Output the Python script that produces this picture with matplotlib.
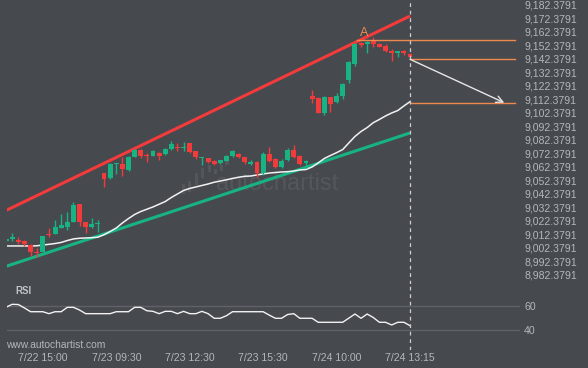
import numpy as np
import matplotlib
matplotlib.use('Agg')
import matplotlib.pyplot as plt

# 15-min candles
opens = [9007.6, 9009.3, 9008.5, 9007.6, 9004.6, 8999.4, 8999.2, 9012.5, 9013.0, 9017.4,
         9018.2, 9021.9, 9035.0, 9021.4, 9018.2, 9019.8, 9057.7, 9054.0, 9064.4, 9064.8,
         9060.2, 9070.0, 9075.2, 9071.4, 9070.8, 9073.0, 9071.8, 9075.7, 9077.3, 9076.6,
         9079.9, 9074.0, 9069.1, 9068.8, 9066.8, 9065.1, 9066.8, 9070.5, 9072.0, 9069.6,
         9064.6, 9066.3, 9057.7, 9072.0, 9068.3, 9062.6, 9067.6, 9075.0, 9070.8, 9065.1,
         9115.0, 9113.7, 9102.2, 9114.0, 9110.8, 9115.0, 9126.8, 9138.7, 9153.9, 9153.5,
         9155.7, 9153.5, 9152.0, 9148.3, 9147.0, 9148.3, 9146.1]
highs = [9008.7, 9013.7, 9010.3, 9008.1, 9005.1, 9002.6, 9011.6, 9017.0, 9023.1, 9027.8,
         9029.3, 9036.7, 9035.0, 9021.9, 9024.8, 9023.1, 9058.3, 9065.1, 9065.3, 9069.8,
         9070.2, 9075.7, 9075.7, 9072.5, 9074.6, 9073.3, 9076.1, 9081.6, 9079.9, 9080.7,
         9079.9, 9074.2, 9070.0, 9069.3, 9067.6, 9067.6, 9070.9, 9075.0, 9072.5, 9069.8,
         9067.4, 9066.5, 9073.7, 9077.4, 9069.3, 9068.3, 9076.2, 9078.7, 9071.3, 9067.6,
         9119.4, 9114.5, 9115.0, 9114.5, 9117.0, 9124.8, 9140.9, 9154.0, 9155.2, 9155.9,
         9158.5, 9154.5, 9153.5, 9149.6, 9148.3, 9149.0, 9146.6]
lows = [9007.6, 9007.8, 9005.1, 9004.1, 8996.7, 8995.9, 8999.1, 9010.8, 9012.5, 9017.0,
        9015.9, 9021.4, 9018.9, 9013.3, 9017.4, 9014.0, 9047.8, 9053.7, 9057.0, 9055.7,
        9059.6, 9069.6, 9069.3, 9066.3, 9070.5, 9067.2, 9071.3, 9075.0, 9074.5, 9074.2,
        9072.5, 9068.1, 9063.9, 9065.4, 9063.9, 9064.6, 9066.5, 9069.8, 9068.8, 9064.4,
        9063.9, 9055.2, 9056.5, 9066.3, 9061.9, 9061.9, 9067.1, 9069.3, 9063.9, 9061.9,
        9110.0, 9102.2, 9100.9, 9103.3, 9110.0, 9112.5, 9124.4, 9137.4, 9151.0, 9147.0,
        9151.0, 9151.0, 9147.8, 9141.1, 9144.1, 9145.3, 9142.9]
closes = [9008.7, 9010.2, 9007.1, 9005.3, 8999.6, 8998.7, 9011.3, 9011.8, 9017.9, 9019.4,
          9021.9, 9034.2, 9021.9, 9018.2, 9020.2, 9020.5, 9053.5, 9064.4, 9065.1, 9060.7,
          9070.0, 9075.0, 9070.8, 9070.7, 9074.2, 9070.8, 9075.7, 9079.2, 9076.6, 9077.3,
          9073.7, 9070.0, 9069.8, 9065.9, 9064.6, 9067.2, 9070.5, 9074.2, 9069.6, 9066.3,
          9066.3, 9057.7, 9072.0, 9066.8, 9062.6, 9066.8, 9075.0, 9070.0, 9064.6, 9066.8,
          9112.8, 9102.6, 9114.0, 9109.1, 9115.0, 9123.9, 9140.4, 9153.5, 9153.1, 9155.2,
          9153.5, 9151.5, 9148.5, 9146.6, 9148.3, 9146.6, 9143.6]

moving_avg = [9003.9, 9003.9, 9003.9, 9003.9, 9003.9, 9004.0, 9004.6, 9005.1, 9005.7, 9006.5,
              9007.9, 9009.1, 9009.6, 9009.8, 9010.0, 9010.4, 9012.2, 9014.6, 9017.2, 9020.9,
              9024.2, 9027.2, 9029.4, 9031.1, 9032.8, 9034.8, 9036.8, 9039.8, 9042.4, 9045.0,
              9046.5, 9047.6, 9048.7, 9049.8, 9051.1, 9052.0, 9052.9, 9053.9, 9054.8, 9055.5,
              9055.7, 9056.5, 9057.2, 9057.9, 9058.3, 9058.7, 9058.9, 9059.4, 9060.2, 9060.5,
              9062.4, 9065.4, 9068.7, 9070.9, 9073.0, 9075.3, 9080.2, 9085.0, 9088.7, 9091.6,
              9095.2, 9097.6, 9100.2, 9102.4, 9104.2, 9107.6, 9110.8]

rsi = [59.0, 61.4, 61.2, 58.4, 55.3, 55.3, 55.3, 53.7, 55.3, 55.3,
       58.9, 58.9, 56.7, 53.7, 53.7, 53.7, 53.7, 53.7, 55.3, 55.3,
       55.3, 58.9, 58.9, 56.1, 55.6, 53.7, 55.6, 55.6, 53.7, 55.6,
       53.7, 53.7, 55.6, 53.7, 49.9, 49.9, 52.0, 55.3, 55.3, 55.3,
       55.3, 55.3, 55.3, 52.5, 49.9, 49.9, 53.0, 53.7, 49.9, 49.9,
       49.9, 46.6, 46.6, 46.6, 46.6, 46.6, 50.0, 53.4, 49.9, 53.4,
       50.5, 46.6, 46.6, 44.4, 46.6, 46.6, 43.8]

# channel (start/end at first and last candle)
resistance = [9030.2, 9174.2]
support = [8988.8, 9087.6]

# pattern levels
level_a = 9156.45
level_last = 9142.16
level_target = 9110.0
target_idx = 81.4

date_idx = [6, 18, 30, 42, 54, 66]
date_labels = ['7/22 15:00', '7/23 09:30', '7/23 12:30', '7/23 15:30', '7/24 10:00', '7/24 13:15']

# faint logo bars next to the watermark (x index, bottom, top)
logo_x = [29.0, 30.0, 31.1, 32.1, 33.2, 34.2, 35.2, 36.1]
logo_lo = [9042.5, 9044.0, 9049.0, 9054.0, 9059.0, 9057.0, 9059.5, 9064.0]
logo_hi = [9050.0, 9052.0, 9058.0, 9062.0, 9063.5, 9061.0, 9064.0, 9069.0]

BG = '#46494e'
TXT = '#b3b6ba'
GREEN = '#17b383'
RED = '#f33b3b'
ORANGE = '#ef8a4e'
FONT = 'Liberation Sans'

plt.rcParams['font.family'] = [FONT, 'DejaVu Sans']

W, H = 588, 368
fig = plt.figure(figsize=(W / 100, H / 100), dpi=100, facecolor=BG)

ax_left, ax_right = 7, 520
ax = fig.add_axes([ax_left / W, 1 - 284 / H, (ax_right - ax_left) / W, 284 / H])
ax_rsi = fig.add_axes([ax_left / W, 1 - 350 / H, (ax_right - ax_left) / W, 66 / H])

n = len(closes)
idx = np.arange(n)
xmin = 0.147
xmax = xmin + (ax_right - ax_left) / 6.12

for a in (ax, ax_rsi):
    a.set_facecolor(BG)
    for s in a.spines.values():
        s.set_visible(False)
    a.set_xlim(xmin, xmax)
    a.yaxis.tick_right()
    a.tick_params(axis='both', length=0, colors=TXT, labelsize=7.6)

ax.set_ylim(8975.71, 9186.08)
ax.set_xticks([])
ticks = np.arange(8982.3791, 9183, 10)
ax.set_yticks(ticks)
ax.set_yticklabels([f'{t:,.4f}' for t in ticks])
ax.tick_params(axis='y', pad=3)

# watermark
ax.text(0.526, 0.331, 'autochartist', transform=ax.transAxes, ha='center', va='baseline',
        fontsize=17, color='#54575c', zorder=0.5)
ax.bar(logo_x, np.array(logo_hi) - np.array(logo_lo), bottom=logo_lo, width=0.55,
       color='#53565b', zorder=0.5, linewidth=0)

# candles
o = np.array(opens)
c = np.array(closes)
colors = np.where(c >= o, GREEN, RED)
ax.vlines(idx, lows, highs, colors=colors, lw=1, zorder=3)
body = np.maximum(np.abs(c - o), 0.8)
ax.bar(idx, body, bottom=np.minimum(o, c), width=0.8, color=colors, zorder=4, linewidth=0)

# channel lines and moving average
ax.plot([0, n - 1], resistance, color=RED, lw=2.2, zorder=2, solid_capstyle='butt')
ax.plot([0, n - 1], support, color=GREEN, lw=2.2, zorder=2, solid_capstyle='butt')
ax.plot(idx, moving_avg, color='#f2f2f2', lw=1.1, zorder=2.5)

# pattern annotations
ax.plot([57.35, 83.15], [level_a, level_a], color=ORANGE, lw=1.0, zorder=5)
ax.plot([n - 1, 83.15], [level_last, level_last], color=ORANGE, lw=1.0, zorder=5)
ax.plot([n - 1, 83.15], [level_target, level_target], color=ORANGE, lw=1.0, zorder=5)
ax.annotate('', xy=(target_idx, level_target), xytext=(n - 1, level_last),
            arrowprops=dict(arrowstyle='->', color='#e6e6e6', lw=1, mutation_scale=12,
                            shrinkA=0, shrinkB=0), zorder=6)
ax.text(58.5, 9161.6, 'A', color=ORANGE, fontsize=9, ha='center', va='center', zorder=6)

# RSI panel
ax_rsi.set_ylim(23.8, 78.1)
ax_rsi.set_yticks([40, 60])
ax_rsi.tick_params(axis='y', pad=3)
for lvl in (40, 60):
    ax_rsi.axhline(lvl, color='#5f6267', lw=1, zorder=1)
ax_rsi.plot(idx, rsi, color='#f2f2f2', lw=1, zorder=3)
ax_rsi.set_xticks(date_idx)
ax_rsi.set_xticklabels(date_labels)
ax_rsi.tick_params(axis='x', pad=2)

for a in (ax, ax_rsi):
    a.axvline(n - 1, color='#cfcfcf', lw=0.9, ls=(0, (3, 3)), zorder=7)

fig.text(15 / W, 1 - 291 / H, 'RSI', color='#bfc2c6', fontsize=7, fontweight='bold', va='center')
fig.text(6 / W, 1 - 345 / H, 'www.autochartist.com', color=TXT, fontsize=7.4, va='center')

fig.savefig('out.png', dpi=100, facecolor=BG)
